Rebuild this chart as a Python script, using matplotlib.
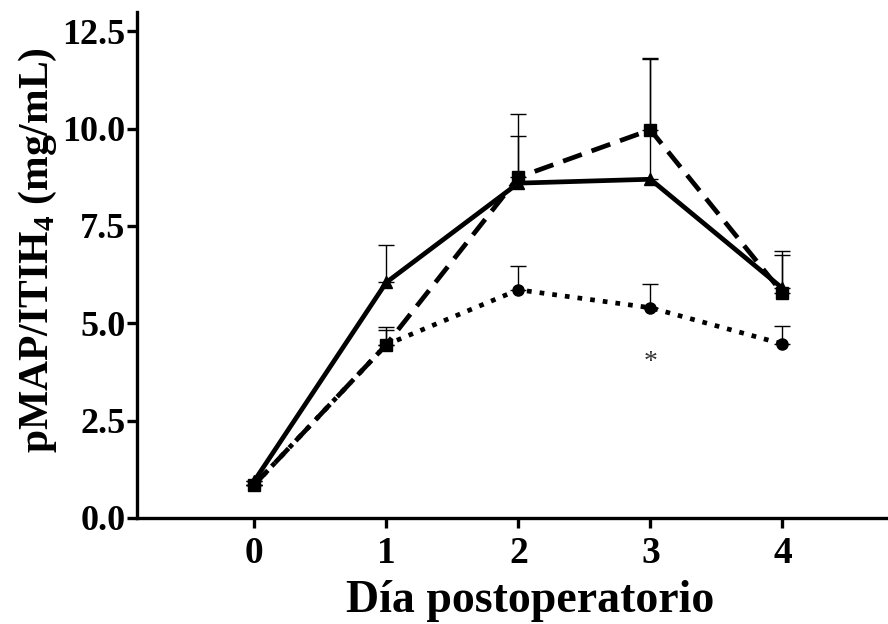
import matplotlib
matplotlib.use("Agg")
import matplotlib.pyplot as plt
import numpy as np

dias = [0, 1, 2, 3, 4]

# serie continua (triangulos)
media_tri = [0.95, 6.05, 8.6, 8.7, 5.9]
err_tri = [0.0, 0.95, 1.2, 3.1, 0.95]

# serie discontinua (cuadrados)
media_cua = [0.85, 4.45, 8.75, 9.97, 5.78]
err_cua = [0.0, 0.45, 1.62, 1.85, 0.98]

# serie punteada (circulos)
media_cir = [0.85, 4.45, 5.86, 5.4, 4.47]
err_cir = [0.0, 0.38, 0.6, 0.6, 0.45]

plt.rcParams['font.family'] = ['Liberation Serif', 'DejaVu Serif']
plt.rcParams['mathtext.fontset'] = 'custom'
plt.rcParams['mathtext.rm'] = 'Liberation Serif'
plt.rcParams['mathtext.bf'] = 'Liberation Serif:bold'

fig = plt.figure(figsize=(8.88, 6.24), dpi=100)
ax = fig.add_axes([0.154, 0.17, 0.846, 0.811])

ceros = np.zeros(len(dias))

# barras de error (solo hacia arriba)
for media, err in [(media_tri, err_tri), (media_cua, err_cua), (media_cir, err_cir)]:
    ax.errorbar(dias, media, yerr=[ceros, err], fmt='none', ecolor='black',
                elinewidth=1.0, capsize=6, capthick=1.0, zorder=2)

ax.plot(dias, media_cir, color='black', lw=3.4, linestyle=(0, (1.0, 1.7)),
        marker='o', markersize=8, zorder=3)
ax.plot(dias, media_cua, color='black', lw=3.4, linestyle=(0, (4.2, 2.2)),
        marker='s', markersize=8, zorder=4)
ax.plot(dias, media_tri, color='black', lw=3.4, linestyle='-',
        marker='^', markersize=9, zorder=5)

ax.text(3, 4.0, '*', ha='center', va='center', fontsize=20, color='#333333')

ax.set_xlim(-0.89, 4.8)
ax.set_ylim(0, 13.0)
ax.set_xticks(dias)
ax.set_yticks([0, 2.5, 5.0, 7.5, 10.0, 12.5])
ax.set_yticklabels(['0.0', '2.5', '5.0', '7.5', '10.0', '12.5'])

ax.spines['top'].set_visible(False)
ax.spines['right'].set_visible(False)
for s in ['left', 'bottom']:
    ax.spines[s].set_linewidth(2.4)
ax.tick_params(axis='both', width=2.4, length=7, direction='out')
ax.tick_params(axis='y', labelsize=26, pad=1)
ax.tick_params(axis='x', labelsize=27, pad=6)
for lab in ax.get_xticklabels() + ax.get_yticklabels():
    lab.set_fontweight('bold')

ax.set_xlabel('Día postoperatorio', fontsize=33, fontweight='bold')
ax.set_ylabel(r'pMAP/ITIH$_\mathbf{4}$ (mg/mL)', fontsize=30, fontweight='bold')
ax.xaxis.set_label_coords(0.523, -0.123)
ax.yaxis.set_label_coords(-0.103, 0.53)

fig.savefig('out.png', dpi=100)
